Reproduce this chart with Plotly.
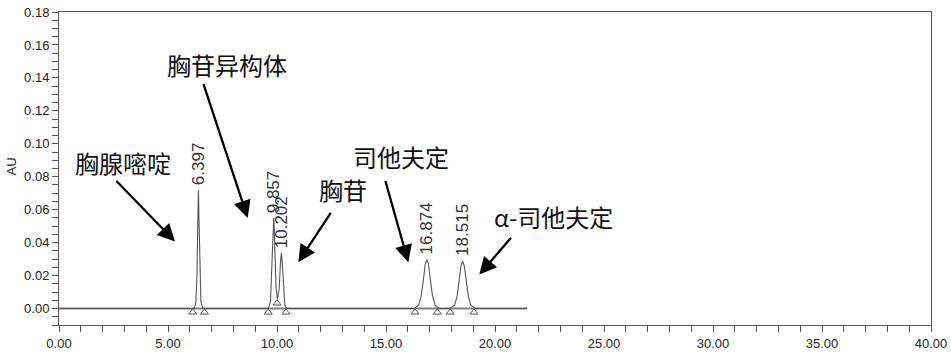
import plotly.graph_objects as go

# Chromatogram signal (time in min, absorbance in AU)
signal_t = [0.00, 6.20, 6.28, 6.33, 6.37, 6.397, 6.42, 6.46, 6.51, 6.60,
            9.60, 9.70, 9.76, 9.82, 9.857, 9.90, 9.96, 10.02, 10.10, 10.16, 10.202, 10.24, 10.30, 10.36, 10.45,
            16.30, 16.50, 16.62, 16.72, 16.80, 16.874, 16.95, 17.03, 17.13, 17.25, 17.45,
            17.95, 18.15, 18.27, 18.37, 18.44, 18.515, 18.59, 18.67, 18.77, 18.89, 19.10, 21.47]
signal_au = [0.0, 0.0, 0.004, 0.020, 0.055, 0.0718, 0.055, 0.020, 0.004, 0.0,
             0.0, 0.004, 0.020, 0.045, 0.055, 0.040, 0.012, 0.0055, 0.012, 0.028, 0.0338, 0.028, 0.010, 0.002, 0.0,
             0.0, 0.002, 0.008, 0.018, 0.027, 0.0297, 0.027, 0.018, 0.008, 0.002, 0.0,
             0.0, 0.002, 0.008, 0.018, 0.026, 0.0287, 0.026, 0.018, 0.008, 0.002, 0.0, 0.0]

baseline_t = [0.0, 21.47]
baseline_au = [0.0, 0.0]

# Peak retention times and apex heights
peak_rt = [6.397, 9.857, 10.202, 16.874, 18.515]
peak_h = [0.0718, 0.055, 0.0338, 0.0297, 0.0287]
peak_labels = ["6.397", "9.857", "10.202", "16.874", "18.515"]

# Integration start/end markers
mark_t = [6.13, 6.67, 9.60, 10.00, 10.41, 16.33, 17.35, 17.94, 19.04]
mark_au = [0.0, 0.0, 0.0, 0.0055, 0.0, 0.0, 0.0, 0.0, 0.0]

# Compound names with arrows: text position, arrow tail, arrow tip
names = ["胸腺嘧啶", "胸苷异构体", "胸苷", "司他夫定", "α-司他夫定"]
name_x = [2.913, 7.706, 13.028, 15.665, 22.661]
name_y = [0.0886, 0.1481, 0.0725, 0.0925, 0.0558]
tail_x = [2.569, 6.606, 12.509, 14.954, 20.794]
tail_y = [0.0783, 0.1371, 0.0590, 0.0783, 0.0439]
tip_x = [5.321, 8.656, 10.977, 16.023, 19.280]
tip_y = [0.0407, 0.0550, 0.0281, 0.0281, 0.0206]

x_tickvals = [0, 5, 10, 15, 20, 25, 30, 35, 40]
y_tickvals = [0.00, 0.02, 0.04, 0.06, 0.08, 0.10, 0.12, 0.14, 0.16, 0.18]
y_title = "AU"

fig = go.Figure()
fig.add_trace(go.Scatter(x=baseline_t, y=baseline_au, mode="lines",
                         line=dict(color="#808080", width=2), hoverinfo="skip"))
fig.add_trace(go.Scatter(x=signal_t, y=signal_au, mode="lines",
                         line=dict(color="#555555", width=1.1)))
marker_offset = 0.0023
fig.add_trace(go.Scatter(x=mark_t, y=[v - marker_offset for v in mark_au], mode="markers",
                         marker=dict(symbol="triangle-up-open", size=7, color="#555555",
                                     line=dict(width=1, color="#555555"))))

for rt, h, lab in zip(peak_rt, peak_h, peak_labels):
    fig.add_annotation(x=rt, y=h, text=lab, showarrow=False, textangle=-90,
                       xanchor="center", yanchor="bottom", yshift=3,
                       font=dict(family="Liberation Sans, Arial", size=17, color="#333333"))

cjk = "Noto Sans CJK SC"
for n, nx, ny, tx, ty, px, py in zip(names, name_x, name_y, tail_x, tail_y, tip_x, tip_y):
    fig.add_annotation(x=nx, y=ny, text=n, showarrow=False, xanchor="center", yanchor="middle",
                       font=dict(family=cjk, size=24, color="#111111"))
    fig.add_annotation(x=px, y=py, ax=tx, ay=ty, axref="x", ayref="y", text="",
                       showarrow=True, arrowhead=2, arrowsize=1.5, arrowwidth=2.3,
                       arrowcolor="#000000", standoff=0, startstandoff=0)

# y-axis title placed as rotated text left of the tick labels
fig.add_annotation(xref="paper", yref="paper", x=-0.054, y=0.506, text=y_title,
                   showarrow=False, textangle=-90, xanchor="center", yanchor="middle",
                   font=dict(family="Liberation Sans, Arial", size=13, color="#222222"))

fig.update_layout(
    width=951, height=353,
    margin=dict(l=59, r=20, t=12, b=28),
    paper_bgcolor="white", plot_bgcolor="white",
    showlegend=False,
    font=dict(family="Liberation Sans, Arial", size=13, color="#222222"),
)
fig.update_xaxes(range=[0, 40], tickvals=x_tickvals, automargin=False,
                 ticktext=[f"{v:.2f}" for v in x_tickvals],
                 ticks="outside", ticklen=6, tickcolor="#555555",
                 minor=dict(dtick=1, tick0=0, ticks="outside", ticklen=6, tickcolor="#555555"),
                 showline=True, linecolor="#555555", linewidth=1, mirror=True,
                 showgrid=False, zeroline=False)
fig.update_yaxes(range=[-0.01, 0.18], tickvals=y_tickvals, automargin=False,
                 ticktext=[f"{v:.2f}" for v in y_tickvals],
                 ticks="outside", ticklen=6, tickcolor="#555555",
                 minor=dict(dtick=0.005, tick0=0, ticks="outside", ticklen=6, tickcolor="#555555"),
                 showline=True, linecolor="#555555", linewidth=1, mirror=True,
                 showgrid=False, zeroline=False)

fig.write_html("out.html")
